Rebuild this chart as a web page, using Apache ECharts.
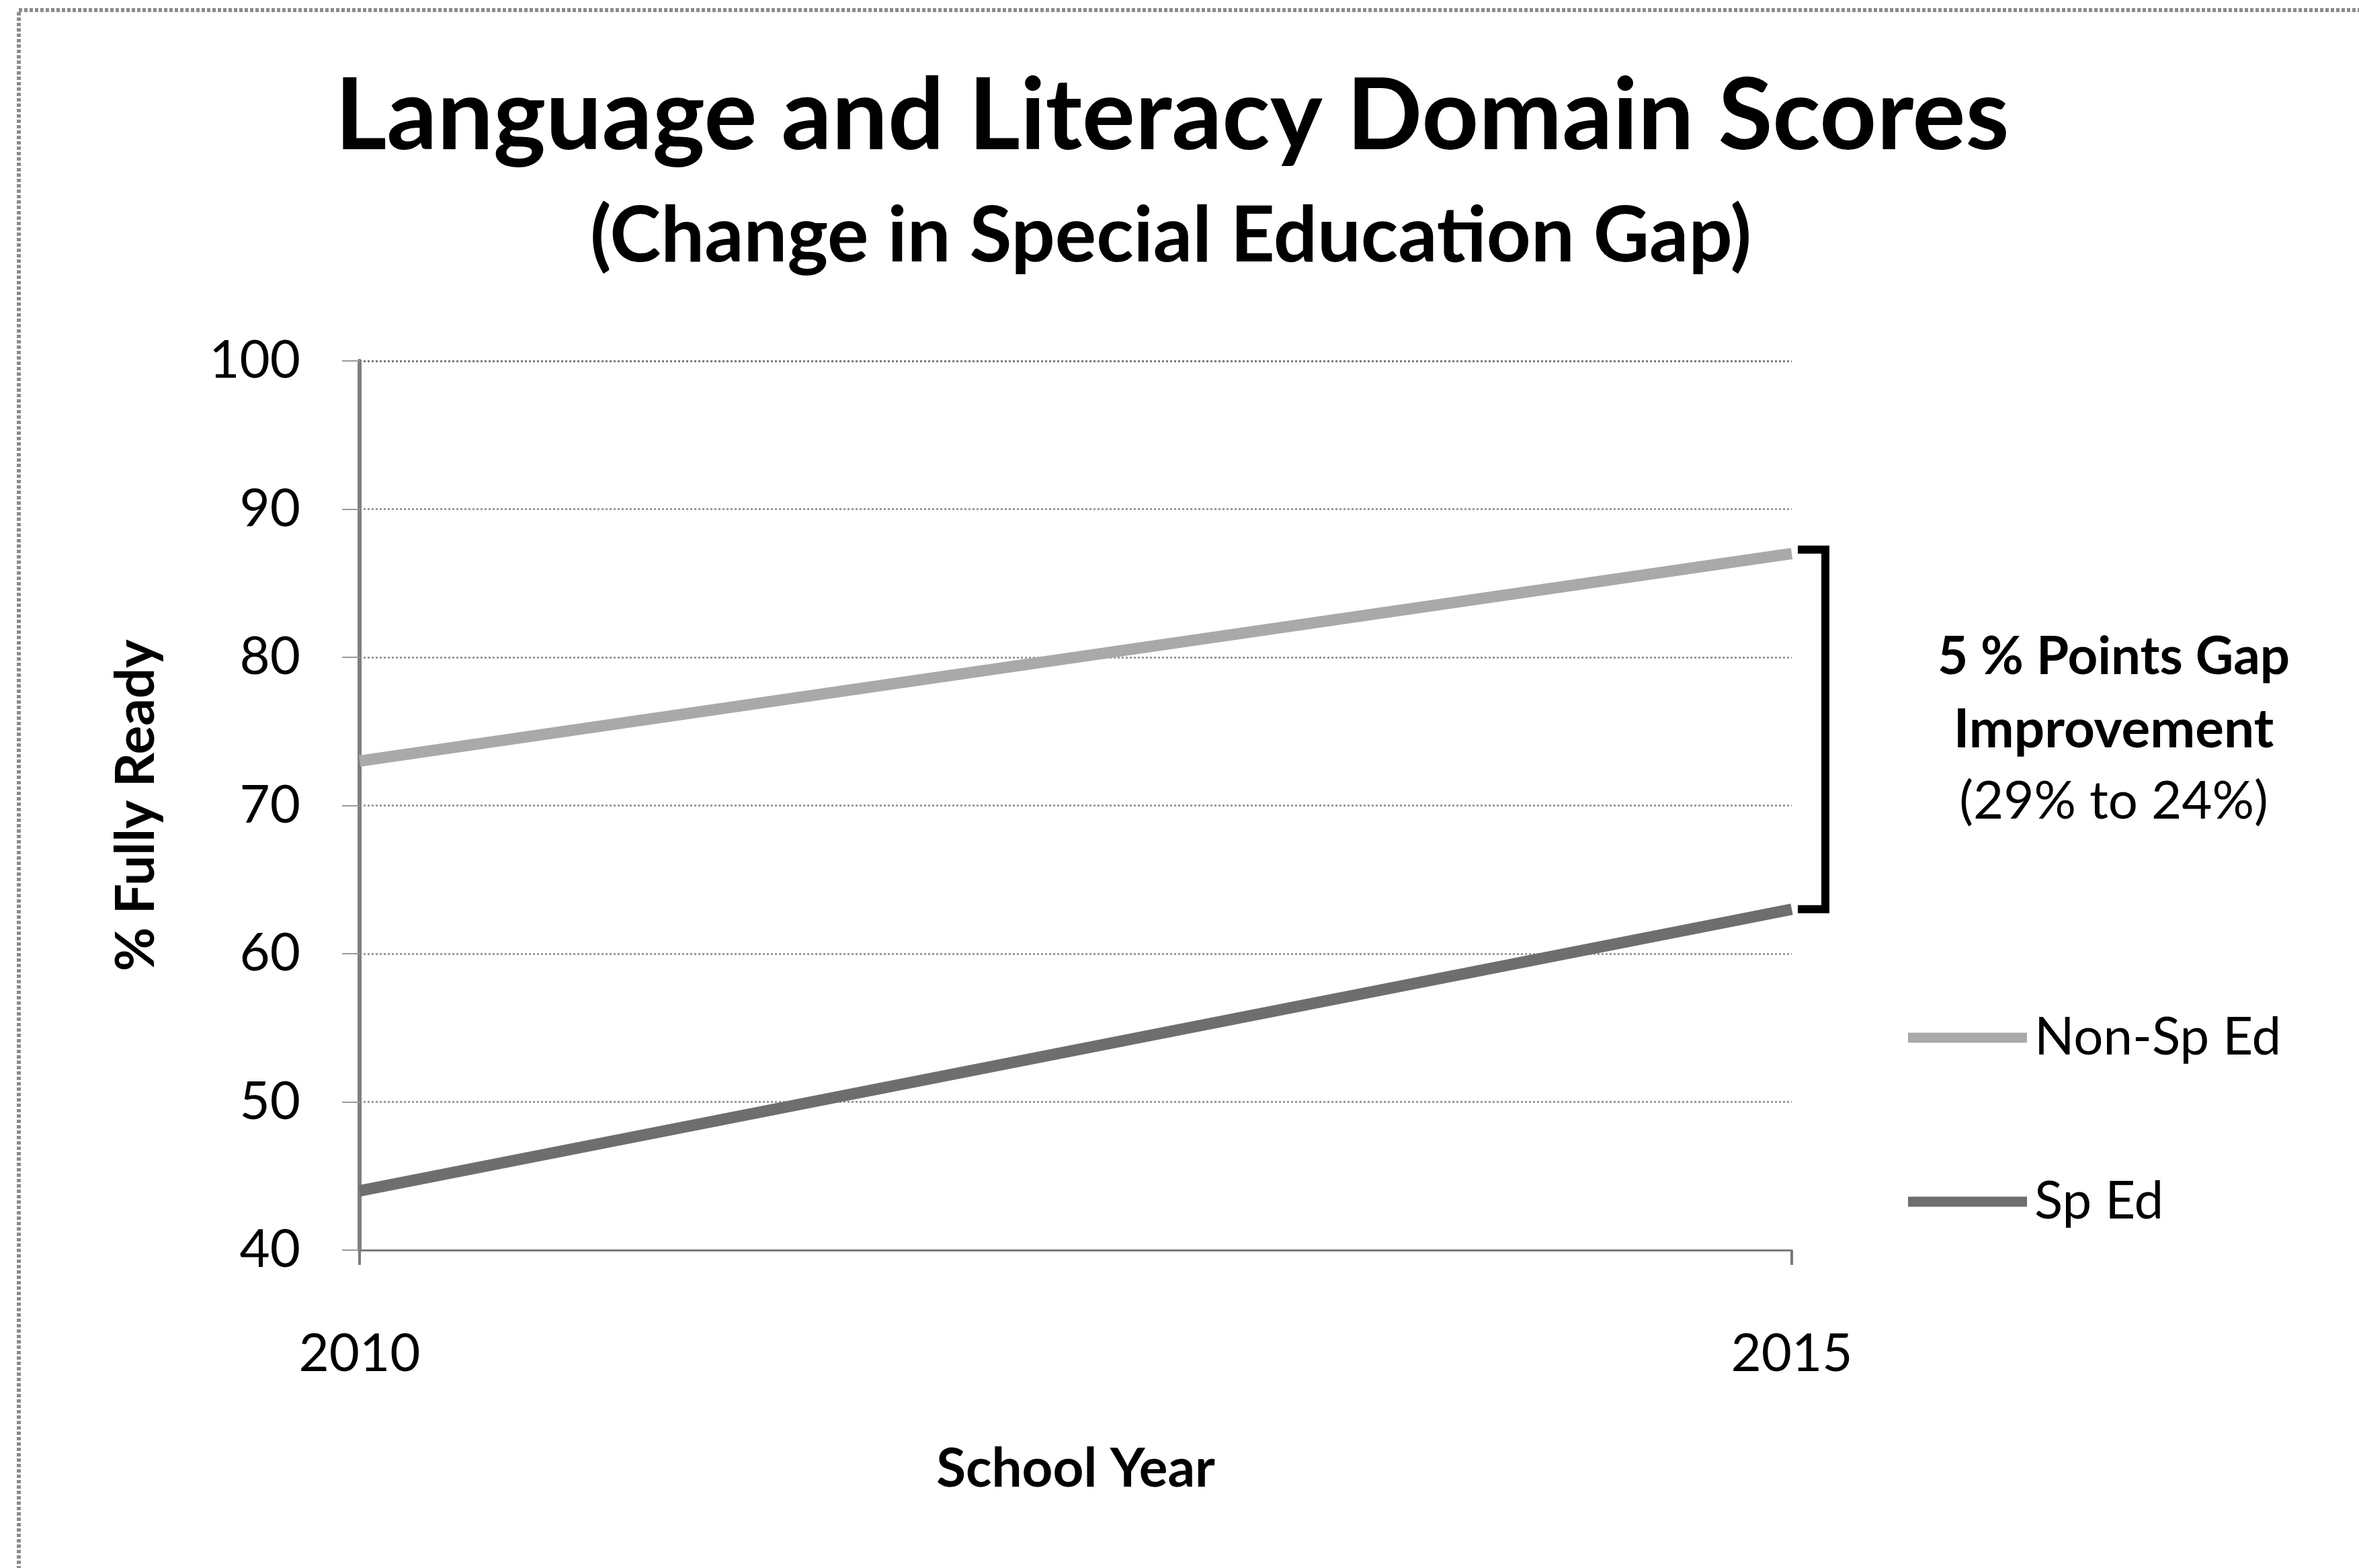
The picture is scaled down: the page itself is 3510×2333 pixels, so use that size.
<!DOCTYPE html>
<html>
<head>
<meta charset="utf-8">
<title>Language and Literacy Domain Scores</title>
<script src="https://cdn.jsdelivr.net/npm/echarts@6/dist/echarts.min.js"></script>
<style>
  html, body { margin: 0; padding: 0; background: #ffffff; }
  #chart { width: 3510px; height: 2333px; }
</style>
</head>
<body>
<div id="chart"></div>
<script>
// School years on the category axis
const years = ['2010', '2015'];
// Percent of children fully ready, by group
const nonSpEd = [73, 87];
const spEd = [44, 63];
// Value axis range and step
const yMin = 40;
const yMax = 100;
const yStep = 10;

const FONT = 'Lato, "Open Sans", sans-serif';

// Gap between the two groups at the first and last year
const gapStart = nonSpEd[0] - spEd[0];
const gapEnd = nonSpEd[nonSpEd.length - 1] - spEd[spEd.length - 1];
const gapChange = gapStart - gapEnd;

const chart = echarts.init(document.getElementById('chart'), null, { renderer: 'canvas' });

const option = {
  backgroundColor: '#ffffff',
  animation: false,
  textStyle: { fontFamily: FONT, color: '#000' },
  title: [
    {
      text: 'Language and Literacy Domain Scores',
      left: 1744, top: 174, textAlign: 'center', textVerticalAlign: 'middle', padding: 0,
      textStyle: { fontFamily: FONT, fontWeight: 'bold', fontSize: 148, color: '#000' }
    },
    {
      text: '(Change in Special Education Gap)',
      left: 1742, top: 352, textAlign: 'center', textVerticalAlign: 'middle', padding: 0,
      textStyle: { fontFamily: FONT, fontWeight: 'bold', fontSize: 115, color: '#000' }
    }
  ],
  grid: { left: 535, right: 844, top: 537, bottom: 473, containLabel: false },
  legend: {
    orient: 'vertical',
    left: 2834, top: 1500,
    icon: 'rect',
    itemWidth: 177, itemHeight: 15, itemGap: 166,
    textStyle: { fontFamily: FONT, fontSize: 78, color: '#000', padding: [0, 0, 0, 6] },
    data: ['Non-Sp Ed', 'Sp Ed']
  },
  xAxis: {
    type: 'category',
    data: years,
    boundaryGap: false,
    name: 'School Year',
    nameLocation: 'middle',
    nameGap: 286,
    nameTextStyle: { fontFamily: FONT, fontWeight: 'bold', fontSize: 80, color: '#000' },
    axisLine: { show: true, lineStyle: { color: '#7a7a7a', width: 3 } },
    axisTick: { show: true, length: 22, lineStyle: { color: '#7a7a7a', width: 4 } },
    axisLabel: { fontFamily: FONT, fontSize: 78, color: '#000', margin: 116 },
    splitLine: { show: false }
  },
  yAxis: {
    type: 'value',
    min: yMin, max: yMax, interval: yStep,
    name: '% Fully Ready',
    nameLocation: 'middle',
    nameGap: 292,
    nameTextStyle: { fontFamily: FONT, fontWeight: 'bold', fontSize: 80, color: '#000' },
    axisLine: { show: true, lineStyle: { color: '#7f7f7f', width: 6 } },
    axisTick: { show: true, length: 26, lineStyle: { color: '#9a9a9a', width: 2 } },
    axisLabel: { fontFamily: FONT, fontSize: 78, color: '#000', margin: 88 },
    splitLine: {
      show: true,
      lineStyle: {
        color: ['#9a9a9a', '#9a9a9a', '#9a9a9a', '#9a9a9a', '#9a9a9a', '#9a9a9a', '#7a7a7a'],
        width: 3, type: [3, 3]
      }
    }
  },
  series: [
    {
      name: 'Non-Sp Ed',
      type: 'line',
      data: nonSpEd,
      showSymbol: false,
      symbol: 'none',
      color: '#a9a9a9',
      lineStyle: { color: '#a9a9a9', width: 17 },
      z: 3
    },
    {
      name: 'Sp Ed',
      type: 'line',
      data: spEd,
      showSymbol: false,
      symbol: 'none',
      color: '#6e6e6e',
      lineStyle: { color: '#6e6e6e', width: 17 },
      z: 3
    },
    {
      // bracket spanning the gap at the last year
      name: 'gapBracket',
      type: 'custom',
      silent: true,
      data: [[years.length - 1, nonSpEd[nonSpEd.length - 1], spEd[spEd.length - 1]]],
      encode: { x: 0, y: [1, 2] },
      renderItem: function (params, api) {
        const top = api.coord([api.value(0), api.value(1)]);
        const bot = api.coord([api.value(0), api.value(2)]);
        const x0 = top[0] + 9;
        const x1 = top[0] + 50;
        return {
          type: 'polyline',
          shape: { points: [[x0, top[1] - 6], [x1, top[1] - 6], [x1, bot[1]], [x0, bot[1]]] },
          style: { stroke: '#000', lineWidth: 12, fill: null, lineJoin: 'miter' }
        };
      },
      z: 4
    }
  ],
  graphic: [
    {
      // outer chart frame
      type: 'rect', silent: true, z: -1,
      shape: { x: 28, y: 15, width: 3600, height: 2500 },
      style: { fill: null, stroke: '#8c8c8c', lineWidth: 6, lineDash: [5, 3] }
    },
    {
      type: 'text', silent: true,
      style: {
        x: 3145, y: 978, text: gapChange + ' % Points Gap',
        align: 'center', verticalAlign: 'middle',
        font: 'bold 78px ' + FONT, fill: '#000'
      }
    },
    {
      type: 'text', silent: true,
      style: {
        x: 3145, y: 1086, text: 'Improvement',
        align: 'center', verticalAlign: 'middle',
        font: 'bold 80px ' + FONT, fill: '#000'
      }
    },
    {
      type: 'text', silent: true,
      style: {
        x: 3145, y: 1193, text: '(' + gapStart + '% to ' + gapEnd + '%)',
        align: 'center', verticalAlign: 'middle',
        font: '78px ' + FONT, fill: '#000'
      }
    }
  ]
};

chart.setOption(option);
</script>
</body>
</html>
